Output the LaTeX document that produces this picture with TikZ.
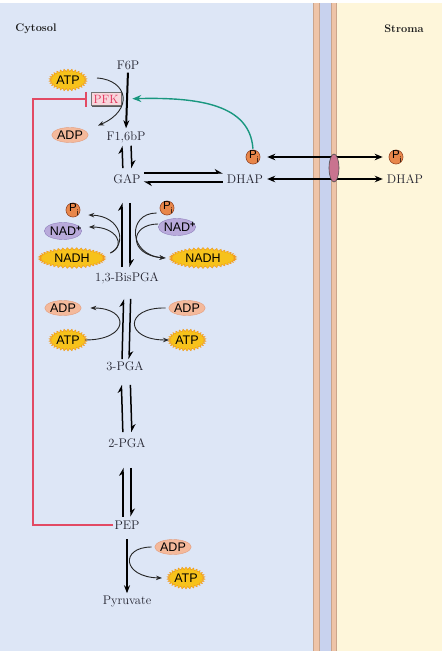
\documentclass[tikz,border=0pt]{standalone}
\usepackage{fontspec}
\newfontfamily\labelsans{Liberation Sans}
\usetikzlibrary{positioning,shapes.geometric,shapes.symbols,arrows.meta,shadows}

\definecolor{cytobg}{HTML}{DDE6F6}
\definecolor{stromabg}{HTML}{FEF6DA}
\definecolor{membo}{HTML}{EEC4A8}
\definecolor{membb}{HTML}{C8D2EE}
\definecolor{membline}{HTML}{C9A48C}
\definecolor{atpfill}{HTML}{F7C21B}
\definecolor{atpdraw}{HTML}{F0961E}
\definecolor{adpfill}{HTML}{F4B99B}
\definecolor{adpdraw}{HTML}{E39C7C}
\definecolor{nadfill}{HTML}{B9AADB}
\definecolor{naddraw}{HTML}{8E7FBC}
\definecolor{pifill}{HTML}{E8864A}
\definecolor{pidraw}{HTML}{8A3A1A}
\definecolor{pfktext}{HTML}{E0305A}
\definecolor{pfkfill}{HTML}{F8D6DC}
\definecolor{inhred}{HTML}{E24A64}
\definecolor{activgreen}{HTML}{19977F}
\definecolor{carrierfill}{HTML}{C9738F}
\definecolor{txtgray}{HTML}{22222E}

\begin{document}
\begin{tikzpicture}[x=1pt,y=-1pt,
metab/.style={font=\fontsize{12.5}{13}\selectfont, text=txtgray, inner sep=1pt},
region/.style={font=\fontsize{11}{12}\selectfont\bfseries, text=black!90},
atpnode/.style={starburst, starburst points=30, starburst point height=2.5pt, random starburst=0, fill=atpfill, draw=atpdraw, line width=0.4pt, font=\labelsans\fontsize{12.5}{13}\selectfont, inner sep=0pt, minimum width=38pt, minimum height=22pt},
nadhnode/.style={atpnode, starburst points=44, minimum width=67pt, minimum height=21pt},
adpnode/.style={ellipse, fill=adpfill, draw=adpdraw, line width=0.4pt, font=\labelsans\fontsize{12.5}{13}\selectfont, inner sep=0pt, minimum width=33pt, minimum height=15pt},
nadnode/.style={adpnode, fill=nadfill, draw=naddraw, minimum width=37pt, minimum height=17pt},
pinode/.style={circle, fill=pifill, draw=pidraw, line width=0.5pt, minimum size=13pt, inner sep=0pt, font=\labelsans\fontsize{11.5}{12}\selectfont},
pfknode/.style={rectangle, draw=black!55, line width=0.6pt, fill=pfkfill, text=pfktext, font=\fontsize{12}{13}\selectfont, inner sep=1pt, minimum width=30pt, minimum height=13pt, drop shadow={shadow xshift=1.2pt, shadow yshift=-1.2pt, fill=black!65, opacity=1}},
axisarrow/.style={line width=2pt, -{Stealth[length=8pt,width=6pt]}},
rev/.style={line width=1.5pt, -{Stealth[harpoon,length=7pt,width=8pt]}},
side/.style={draw=black!85, line width=0.9pt, -{Stealth[length=6pt,width=4.5pt]}},
transp/.style={line width=1.4pt, {Stealth[length=8pt,width=6.5pt]}-{Stealth[length=8pt,width=6.5pt]}},
inhib/.style={draw=inhred, line width=1.6pt, -{Bar[width=15pt]}},
activ/.style={draw=activgreen, line width=1.4pt, -{Stealth[length=9pt,width=7pt]}},
]
\useasboundingbox (0,0) rectangle (442,651);

% Compartments
\fill[cytobg] (0,3) rectangle (313,651);
\fill[membo] (313,3) rectangle (319,651);
\fill[membb] (319,3) rectangle (331,651);
\fill[membo] (331,3) rectangle (337,651);
\fill[stromabg] (337,3) rectangle (442,651);
\draw[membline, line width=0.5pt] (313.5,3) -- (313.5,651) (319,3) -- (319,651)
  (331,3) -- (331,651) (336.5,3) -- (336.5,651);

\node[region] (cyto) at (36,29) {Cytosol};
\node[region] (stroma) at (404,29) {Stroma};

% Nodes
\node[metab] (f6p) at (128,65) {F6P};
\node[atpnode] (atp1) at (68,80) {ATP};
\node[pfknode] (pfk) at (106,99) {PFK};
\node[adpnode] (adp1) at (70,135) {ADP};
\node[metab] (fbp) at (126,137) {F1,6bP};
\node[metab] (gap) at (127,179) {GAP};
\node[metab] (dhap) at (245,179) {DHAP};
\node[pinode] (pic) at (253,157) {P\rlap{\raisebox{-4pt}{\fontsize{8}{8}\selectfont i}}};
\node[pinode] (pis) at (396,157) {P\rlap{\raisebox{-4pt}{\fontsize{8}{8}\selectfont i}}};
\node[metab] (dhaps) at (405,179) {DHAP};

\node[pinode] (pi2) at (73,210) {P\rlap{\raisebox{-4pt}{\fontsize{8}{8}\selectfont i}}};
\node[nadnode] (nad2) at (63,231) {NAD\rlap{\raisebox{4pt}{\fontsize{9}{9}\selectfont\bfseries +}}};
\node[nadhnode] (nadh2) at (72,258) {NADH};
\node[pinode] (pi3) at (167,208) {P\rlap{\raisebox{-4pt}{\fontsize{8}{8}\selectfont i}}};
\node[nadnode] (nad3) at (177,227) {NAD\rlap{\raisebox{4pt}{\fontsize{9}{9}\selectfont\bfseries +}}};
\node[nadhnode] (nadh3) at (203,258) {NADH};
\node[metab] (bpga) at (127,278) {1,3-BisPGA};

\node[adpnode] (adp4) at (63,308) {ADP};
\node[atpnode] (atp4) at (68,340) {ATP};
\node[adpnode] (adp5) at (187,308) {ADP};
\node[atpnode] (atp5) at (187,340) {ATP};
\node[metab] (pga3) at (125,366) {3-PGA};
\node[metab] (pga2) at (127,443) {2-PGA};
\node[metab] (pep) at (127,525) {PEP};
\node[adpnode] (adp6) at (173,547) {ADP};
\node[atpnode] (atp6) at (186,578) {ATP};
\node[metab] (pyr) at (127,601) {Pyruvate};

% Main pathway
\draw[axisarrow, shorten <=2pt, shorten >=2pt] (f6p.south) -- (fbp.north);
\draw[rev, shorten <=5pt, shorten >=2pt] ([xshift=-4pt]gap.north) -- ([xshift=-4pt]fbp.south);
\draw[rev, shorten <=2pt, shorten >=5pt] ([xshift=5pt]fbp.south) -- ([xshift=5pt]gap.north);
\draw[rev, shorten <=4pt, shorten >=18pt] ([xshift=-5pt]bpga.north) -- ([xshift=-5pt]gap.south);
\draw[rev, shorten <=18pt, shorten >=4pt] ([xshift=3pt]gap.south) -- ([xshift=3pt]bpga.north);
\draw[rev, shorten <=1pt, shorten >=14pt] ([xshift=-3pt]pga3.north) -- ([xshift=-3pt]bpga.south);
\draw[rev, shorten <=14pt, shorten >=1pt] ([xshift=4pt]bpga.south) -- ([xshift=4pt]pga3.north);
\draw[rev, shorten <=5pt, shorten >=13pt] ([xshift=-4pt]pga2.north) -- ([xshift=-4pt]pga3.south);
\draw[rev, shorten <=13pt, shorten >=5pt] ([xshift=5pt]pga3.south) -- ([xshift=5pt]pga2.north);
\draw[rev, shorten <=3pt, shorten >=19pt] ([xshift=-4pt]pep.north) -- ([xshift=-4pt]pga2.south);
\draw[rev, shorten <=19pt, shorten >=3pt] ([xshift=4pt]pga2.south) -- ([xshift=4pt]pep.north);
\draw[axisarrow, shorten <=9pt, shorten >=1pt] (pep.south) -- (pyr.north);
\draw[rev, shorten <=2pt, shorten >=3pt] ([yshift=6pt]gap.east) -- ([yshift=6pt]dhap.west);
\draw[rev, shorten <=3pt, shorten >=2pt] ([yshift=-3pt]dhap.west) -- ([yshift=-3pt]gap.east);

% Side reactions
\draw[side] ([xshift=12pt,yshift=2pt]atp1.east) .. controls (128,80) and (134,110) .. ([xshift=15pt,yshift=4pt]adp1.north east);
\draw[side] ([xshift=4pt,yshift=5pt]nadh2.east) .. controls (127,245) and (122,216) .. ([xshift=8pt,yshift=-5pt]pi2.east);
\draw[side] ([xshift=4pt,yshift=5pt]nadh2.east) .. controls (127,245) and (116,227) .. ([xshift=7pt,yshift=4pt]nad2.east);
\draw[side] ([xshift=-3pt,yshift=-5pt]pi3.west) .. controls (127,213) and (128,255) .. ([xshift=-3pt]nadh3.west);
\draw[side] ([yshift=3pt]nad3.west) .. controls (129,224) and (128,255) .. ([xshift=-3pt]nadh3.west);
\draw[side] (atp4.east) .. controls (130,340) and (130,308) .. ([xshift=9pt]adp4.east);
\draw[side] ([xshift=-3pt]adp5.west) .. controls (124,307) and (124,340) .. ([xshift=-1pt]atp5.west);
\draw[side] ([xshift=-3pt]adp6.west) .. controls (120,547) and (122,577) .. ([xshift=-7pt]atp6.west);

% Regulation
\coordinate (bend) at (33,99);
\draw[inhib, shorten >=4pt] (pep.west) -| (bend) -- (pfk.west);
\draw[activ, shorten <=1pt, shorten >=11pt] (pic.north) .. controls (250,105) and (200,97) .. (pfk.east);

% Transport across the envelope
\draw[transp, shorten <=7pt, shorten >=6pt] (pic.east) -- (pis.west);
\draw[transp, shorten <=3pt, shorten >=3pt] (dhap.east) -- (dhaps.west);
\node[ellipse, fill=carrierfill, draw=black!70, line width=0.6pt, minimum width=10pt, minimum height=28pt, inner sep=0pt] (carrier) at (334,168) {};

\end{tikzpicture}
\end{document}
